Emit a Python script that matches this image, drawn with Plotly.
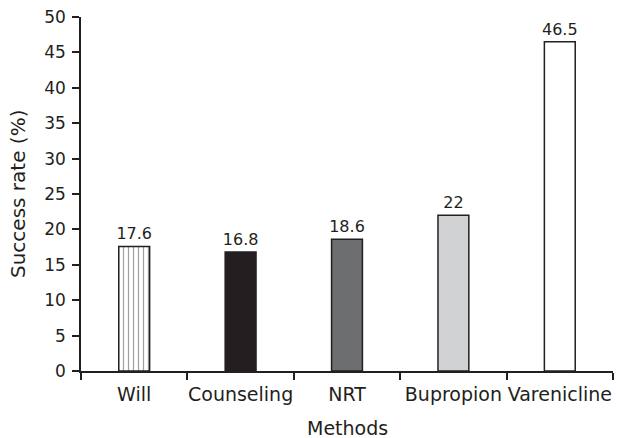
import plotly.graph_objects as go

methods = ["Will", "Counseling", "NRT", "Bupropion", "Varenicline"]
success_rate = [17.6, 16.8, 18.6, 22, 46.5]
value_labels = ["17.6", "16.8", "18.6", "22", "46.5"]
fill_colors = ["#ffffff", "#231f20", "#6d6e70", "#d1d2d4", "#ffffff"]
patterns = ["|", "", "", "", ""]
y_ticks = [0, 5, 10, 15, 20, 25, 30, 35, 40, 45, 50]

font_family = "DejaVu Sans, Liberation Sans, Arial, sans-serif"
ink = "#231f20"

fig = go.Figure(go.Bar(
    x=methods,
    y=success_rate,
    text=value_labels,
    textposition="outside",
    constraintext="none",
    cliponaxis=False,
    textfont=dict(size=16, color=ink, family=font_family),
    width=0.29,
    marker=dict(
        color=fill_colors,
        line=dict(color=ink, width=1.5),
        pattern=dict(shape=patterns, fgcolor=ink, bgcolor="#ffffff",
                     size=5, solidity=0.25, fillmode="overlay"),
    ),
))

fig.update_layout(
    width=617, height=438,
    margin=dict(l=81, r=4, t=17, b=67),
    plot_bgcolor="white", paper_bgcolor="white",
    font=dict(family=font_family, size=17, color=ink),
    showlegend=False,
    annotations=[
        dict(text="Methods", xref="paper", yref="paper", x=0.5, y=0,
             yshift=-57, xanchor="center", yanchor="middle", showarrow=False,
             font=dict(size=19, color=ink, family=font_family)),
        dict(text="Success rate (%)", xref="paper", yref="paper", x=0, y=0.5,
             xshift=-63, xanchor="center", yanchor="middle", showarrow=False,
             textangle=-90,
             font=dict(size=20, color=ink, family=font_family)),
    ],
)
fig.update_xaxes(
    automargin=False,
    showline=True, linecolor=ink, linewidth=1.5,
    ticks="outside", tickson="boundaries", ticklen=7, tickwidth=1.5, tickcolor=ink,
    tickfont=dict(size=19), tickangle=0, ticklabelstandoff=5,
    showgrid=False,
)
fig.update_yaxes(
    automargin=False,
    range=[0, 50], tickvals=y_ticks,
    showline=True, linecolor=ink, linewidth=1.5,
    ticks="outside", ticklen=7, tickwidth=1.5, tickcolor=ink,
    tickfont=dict(size=17), ticklabelstandoff=3, ticklabeloverflow="allow",
    showgrid=False, zeroline=False,
)

fig.write_html(
    "out.html",
    config={"displayModeBar": False},
    post_script="document.body.style.margin='0';document.body.style.overflow='hidden';",
)
